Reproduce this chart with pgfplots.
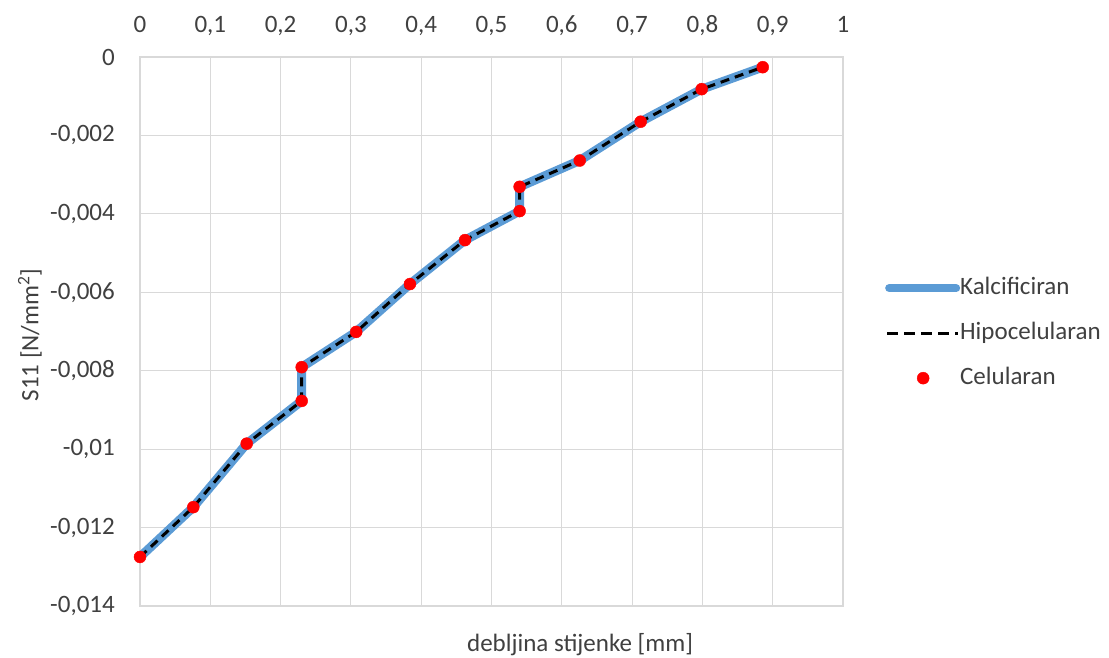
\documentclass[border=0pt]{standalone}
\usepackage{fontspec}
\setmainfont{Carlito}
\usepackage{pgfplots}
\pgfplotsset{compat=1.18}
\definecolor{kblue}{HTML}{5B9BD5}
\definecolor{gridc}{HTML}{D9D9D9}
\definecolor{txt}{HTML}{404040}
\begin{document}
\begin{tikzpicture}
\useasboundingbox (0,0) rectangle (1109pt,657pt);
\begin{axis}[
  at={(140pt,51pt)}, anchor=south west,
  scale only axis, width=703pt, height=549pt,
  xmin=0, xmax=1, ymin=-0.014, ymax=0,
  xtick={0,0.1,0.2,0.3,0.4,0.5,0.6,0.7,0.8,0.9,1},
  ytick={-0.014,-0.012,-0.01,-0.008,-0.006,-0.004,-0.002,0},
  scaled y ticks=false, scaled x ticks=false,
  xticklabel pos=upper,
  major tick length=0pt,
  grid=major,
  grid style={gridc, line width=1pt},
  axis line style={gridc, line width=1.5pt},
  /pgf/number format/.cd, use comma, fixed, precision=3, 1000 sep={}, assume math mode=true,
  /pgfplots/.cd,
  tick label style={font=\fontsize{25}{29}\selectfont, text=txt, inner sep=0pt},
  yticklabel style={anchor=east, xshift=-25pt},
  xticklabel style={anchor=base, yshift=24pt},
  xlabel={debljina stijenke [mm]},
  ylabel={S11 [N/mm\textsuperscript{2}]},
  label style={font=\fontsize{25}{29}\selectfont, text=txt},
  xlabel style={at={(axis description cs:0.626,-0.071)}, anchor=center},
  ylabel style={at={(axis description cs:-0.1565,0.4936)}, anchor=center},
  legend style={draw=none, fill=none, inner sep=0pt, at={(axis description cs:1.0597,0.497)}, anchor=west,
    font=\fontsize{25}{29}\selectfont, text=txt, row sep=23pt,
    nodes={inner sep=0pt, text height=17pt, text depth=5pt},
    /tikz/every even column/.append style={column sep=10pt}},
  legend cell align=left,
]
\addplot[kblue, line width=9pt, line join=round, line cap=round,
  legend image code/.code={\draw[kblue, line width=8pt, line cap=round] (4pt,0pt) -- (71pt,0pt);}]
  coordinates {
  (0,-0.01275) (0.0758,-0.01148) (0.1518,-0.00986) (0.2300,-0.00877) (0.2300,-0.00791)
  (0.3075,-0.00701) (0.3840,-0.00579) (0.4623,-0.00467) (0.5400,-0.00393) (0.5400,-0.00331)
  (0.6255,-0.00264) (0.7122,-0.00165) (0.7990,-0.00082) (0.8858,-0.00026)};
\addlegendentry{Kalcificiran}
\addplot[black, line width=3pt, dash pattern=on 9pt off 6pt, line join=round,
  legend image code/.code={\draw[black, line width=3pt, dash pattern=on 11pt off 6pt] (2pt,0pt) -- (73pt,0pt);}]
  coordinates {
  (0,-0.01275) (0.0758,-0.01148) (0.1518,-0.00986) (0.2300,-0.00877) (0.2300,-0.00791)
  (0.3075,-0.00701) (0.3840,-0.00579) (0.4623,-0.00467) (0.5400,-0.00393) (0.5400,-0.00331)
  (0.6255,-0.00264) (0.7122,-0.00165) (0.7990,-0.00082) (0.8858,-0.00026)};
\addlegendentry{Hipocelularan}
\addplot[only marks, mark=*, mark size=6pt, mark options={fill=red, draw=red},
  legend image code/.code={\draw[mark repeat=2, mark phase=2] plot coordinates {(0pt,0pt) (38pt,0pt) (76pt,0pt)};}]
  coordinates {
  (0,-0.01275) (0.0758,-0.01148) (0.1518,-0.00986) (0.2300,-0.00877) (0.2300,-0.00791)
  (0.3075,-0.00701) (0.3840,-0.00579) (0.4623,-0.00467) (0.5400,-0.00393) (0.5400,-0.00331)
  (0.6255,-0.00264) (0.7122,-0.00165) (0.7990,-0.00082) (0.8858,-0.00026)};
\addlegendentry{Celularan}
\end{axis}
\end{tikzpicture}
\end{document}
